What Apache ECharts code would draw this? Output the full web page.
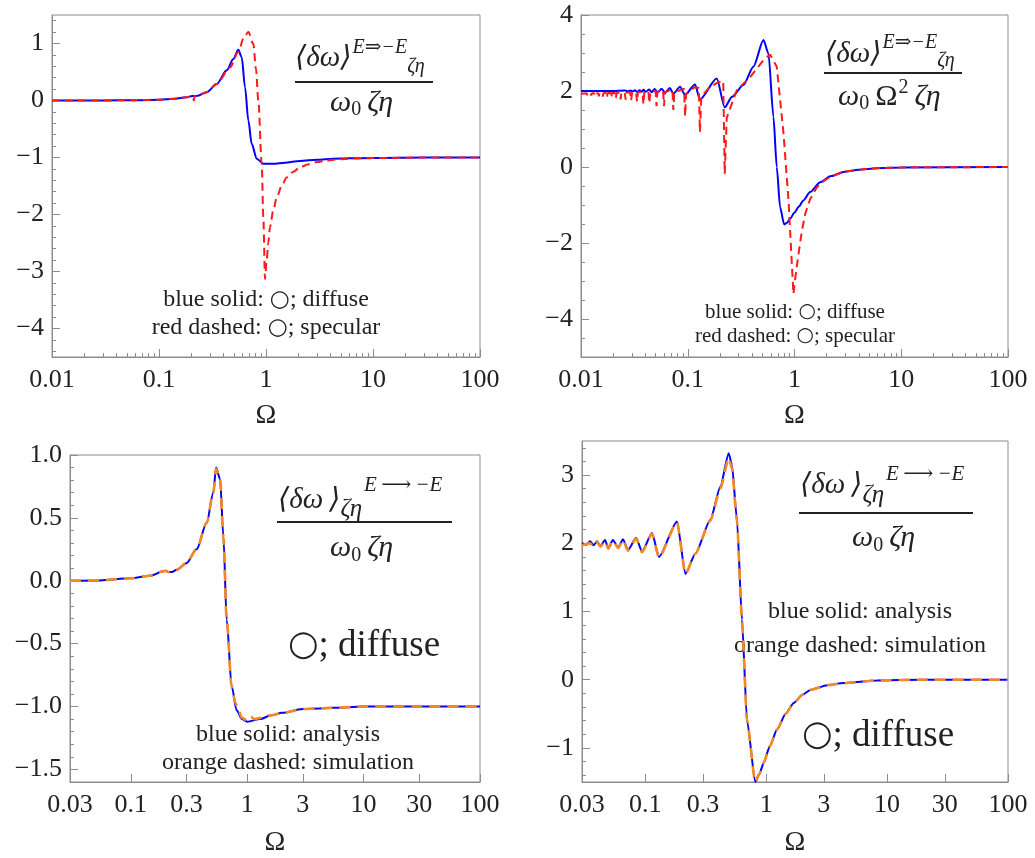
<!DOCTYPE html>
<html>
<head>
<meta charset="utf-8">
<script src="https://cdn.jsdelivr.net/npm/echarts@6/dist/echarts.min.js"></script>
<style>
html, body { margin: 0; padding: 0; background: #fff; }
#chart { width: 1035px; height: 858px; }
</style>
</head>
<body>
<div id="chart"></div>
<script>
// ---- panel 1 (top left): diffuse vs specular
var p1BlueX = [0.01, 0.03, 0.06, 0.1, 0.14, 0.18, 0.205, 0.215, 0.23, 0.279, 0.346, 0.43, 0.495, 0.551, 0.593, 0.637, 0.684, 0.735, 0.819, 0.944, 1.17, 1.5, 2.08, 3, 4.26, 6, 10, 30, 100];
var p1BlueY = [0, 0, 0.005, 0.015, 0.03, 0.055, 0.08, 0.075, 0.085, 0.146, 0.29, 0.53, 0.73, 0.89, 0.76, 0.23, -0.35, -0.76, -1.02, -1.11, -1.11, -1.09, -1.06, -1.04, -1.02, -1.015, -1.01, -1.0, -1.0];
var p1RedX = [0.01, 0.03, 0.06, 0.1, 0.14, 0.18, 0.205, 0.212, 0.215, 0.225, 0.279, 0.346, 0.461, 0.551, 0.62, 0.684, 0.762, 0.806, 0.848, 0.912, 0.944, 0.979, 1.01, 1.05, 1.09, 1.17, 1.26, 1.4, 1.56, 1.8, 2.08, 2.5, 2.98, 3.6, 4.26, 6, 10, 30, 100];
var p1RedY = [0, 0, 0.005, 0.015, 0.03, 0.055, 0.075, 0.0, 0.07, 0.085, 0.146, 0.29, 0.58, 0.85, 1.1, 1.2, 0.99, 0.55, 0, -1.11, -2.05, -3.13, -2.85, -2.5, -2.22, -1.93, -1.70, -1.5, -1.35, -1.25, -1.17, -1.12, -1.08, -1.06, -1.04, -1.02, -1.01, -1.0, -1.0];
var p1XTicks = [0.01, 0.1, 1, 10, 100];
var p1YTicks = [-4, -3, -2, -1, 0, 1];

// ---- panel 2 (top right): divided by Omega^2
var p2BlueX = [0.01, 0.02, 0.026, 0.0275, 0.029, 0.0305, 0.032, 0.0335, 0.0355, 0.037, 0.0385, 0.0405, 0.0435, 0.046, 0.049, 0.052, 0.057, 0.0613, 0.068, 0.0733, 0.0847, 0.0944, 0.117, 0.130, 0.187, 0.222, 0.26, 0.332, 0.412, 0.512, 0.57, 0.635, 0.682, 0.733, 0.80, 0.85, 0.91, 1.0, 1.1, 1.21, 1.4, 1.74, 2.2, 2.88, 4, 5.9, 10, 100];
var p2BlueY = [2.0, 2.0, 2.01, 1.99, 2.01, 1.99, 2.02, 1.98, 2.02, 1.98, 2.03, 1.98, 2.04, 1.97, 2.05, 1.96, 2.06, 1.95, 2.08, 1.93, 2.11, 1.90, 2.17, 1.78, 2.33, 1.57, 1.85, 2.16, 2.64, 3.34, 2.99, 1.32, 0, -1.06, -1.51, -1.47, -1.36, -1.2, -1.04, -0.88, -0.66, -0.40, -0.24, -0.13, -0.07, -0.03, -0.01, 0];
var p2RedX = [0.01, 0.0113, 0.0115, 0.0117, 0.0123, 0.0125, 0.0127, 0.0133, 0.0135, 0.0137, 0.0145, 0.0147, 0.0149, 0.0158, 0.016, 0.0162, 0.0172, 0.0175, 0.0178, 0.0189, 0.0192, 0.0195, 0.0208, 0.0212, 0.0216, 0.0231, 0.0235, 0.0239, 0.0257, 0.0262, 0.0267, 0.0289, 0.0295, 0.0301, 0.0328, 0.0335, 0.0342, 0.0376, 0.0384, 0.0392, 0.0428, 0.0437, 0.0446, 0.050, 0.051, 0.052, 0.0587, 0.0599, 0.0611, 0.0718, 0.0733, 0.0748, 0.0925, 0.0944, 0.0965, 0.116, 0.127, 0.130, 0.134, 0.16, 0.19, 0.215, 0.222, 0.232, 0.25, 0.288, 0.385, 0.512, 0.59, 0.682, 0.789, 0.879, 0.977, 1.03, 1.09, 1.17, 1.26, 1.4, 1.62, 1.9, 2.16, 2.88, 4, 6, 10, 100];
var p2RedY = [1.93, 1.94, 1.88, 1.94, 1.94, 1.88, 1.94, 1.94, 1.87, 1.94, 1.94, 1.86, 1.94, 1.94, 1.85, 1.94, 1.95, 1.83, 1.95, 1.95, 1.82, 1.95, 1.95, 1.80, 1.95, 1.96, 1.78, 1.96, 1.96, 1.77, 1.96, 1.96, 1.75, 1.96, 1.97, 1.72, 1.97, 1.98, 1.65, 1.98, 1.99, 1.68, 1.98, 2.0, 1.60, 1.98, 2.02, 1.60, 1.97, 2.04, 1.50, 1.96, 2.06, 1.33, 1.92, 2.1, 2.08, 0.92, 1.85, 2.1, 2.22, 2.27, -0.18, 1.3, 1.55, 2.02, 2.37, 2.81, 2.96, 2.64, 0.88, -0.88, -3.34, -2.8, -2.29, -1.7, -1.23, -0.85, -0.53, -0.36, -0.26, -0.13, -0.07, -0.03, -0.01, 0];
var p2XTicks = [0.01, 0.1, 1, 10, 100];
var p2YTicks = [-4, -2, 0, 2, 4];

// ---- panel 3 (bottom left): analysis vs simulation
var p3BlueX = [0.03, 0.054, 0.1, 0.146, 0.19, 0.2, 0.21, 0.225, 0.248, 0.3, 0.367, 0.448, 0.511, 0.54, 0.584, 0.624, 0.666, 0.735, 0.811, 0.9, 1.0, 1.29, 1.6, 2.0, 3.0, 4.2, 5.5, 10, 30, 100];
var p3BlueY = [0, 0.003, 0.02, 0.04, 0.075, 0.08, 0.07, 0.07, 0.088, 0.14, 0.25, 0.46, 0.70, 0.90, 0.81, 0.35, -0.31, -0.84, -1.03, -1.10, -1.12, -1.10, -1.07, -1.05, -1.02, -1.015, -1.01, -1.0, -1.0, -1.0];
var p3OrangeX = [0.03, 0.054, 0.1, 0.146, 0.19, 0.2, 0.21, 0.225, 0.248, 0.3, 0.367, 0.448, 0.511, 0.54, 0.584, 0.624, 0.666, 0.735, 0.79, 0.83, 0.9, 1.0, 1.07, 1.15, 1.29, 1.6, 2.0, 3.0, 4.2, 5.5, 10, 30, 100];
var p3OrangeY = [0, 0.003, 0.02, 0.04, 0.075, 0.08, 0.07, 0.07, 0.088, 0.14, 0.25, 0.46, 0.70, 0.89, 0.81, 0.35, -0.31, -0.84, -0.97, -1.01, -1.09, -1.11, -1.08, -1.1, -1.09, -1.07, -1.05, -1.02, -1.015, -1.01, -1.0, -1.0, -1.0];
var p3XTicks = [0.03, 0.1, 0.3, 1, 3, 10, 30, 100];
var p3YTicks = [-1.5, -1.0, -0.5, 0.0, 0.5, 1.0];

// ---- panel 4 (bottom right)
var p4BlueX = [0.03, 0.0325, 0.035, 0.0375, 0.04, 0.0425, 0.0465, 0.0495, 0.054, 0.0598, 0.0655, 0.072, 0.084, 0.094, 0.1138, 0.130, 0.183, 0.215, 0.26, 0.345, 0.418, 0.49, 0.521, 0.574, 0.631, 0.694, 0.812, 0.88, 0.953, 1.07, 1.23, 1.45, 1.69, 2.0, 2.32, 3.2, 4.37, 8.2, 20, 100];
var p4BlueY = [2.0, 1.98, 2.03, 1.97, 2.03, 1.96, 2.05, 1.93, 2.05, 1.94, 2.06, 1.90, 2.08, 1.88, 2.15, 1.80, 2.32, 1.55, 1.85, 2.34, 2.83, 3.32, 3.15, 2.34, 0.88, -0.59, -1.50, -1.38, -1.22, -0.98, -0.73, -0.5, -0.34, -0.22, -0.15, -0.08, -0.05, -0.01, 0, 0];
var p4OrangeX = [0.03, 0.0325, 0.035, 0.0375, 0.04, 0.0425, 0.0465, 0.0495, 0.054, 0.0598, 0.0655, 0.072, 0.084, 0.094, 0.1138, 0.130, 0.183, 0.215, 0.26, 0.345, 0.418, 0.49, 0.521, 0.574, 0.631, 0.694, 0.812, 0.88, 0.953, 1.07, 1.23, 1.45, 1.69, 2.0, 2.32, 3.2, 4.37, 8.2, 20, 100];
var p4OrangeY = [1.97, 1.99, 2.0, 1.95, 2.02, 1.95, 2.03, 1.92, 2.04, 1.93, 2.05, 1.89, 2.07, 1.87, 2.14, 1.79, 2.31, 1.55, 1.85, 2.33, 2.80, 3.25, 3.10, 2.32, 0.88, -0.59, -1.50, -1.38, -1.22, -0.98, -0.73, -0.5, -0.34, -0.22, -0.15, -0.08, -0.05, -0.01, 0, 0];
var p4XTicks = [0.03, 0.1, 0.3, 1, 3, 10, 30, 100];
var p4YTicks = [-1, 0, 1, 2, 3];

var serif = '"Liberation Serif", "DejaVu Serif", serif';
var ink = '#222';
var frame = '#8c8c8c';
var blue = '#0000ff';
var red = '#ff1a1a';
var orange = '#f5891f';

function pairs(xs, ys) {
  return xs.map(function (x, i) { return [x, ys[i]]; });
}

// minor ticks of a log axis: 2..9 in each decade
function logMinor(min, max) {
  var out = [];
  for (var d = -3; d <= 2; d++) {
    for (var k = 2; k <= 9; k++) {
      var v = k * Math.pow(10, d);
      if (v > min && v < max) out.push(v);
    }
  }
  return out;
}

function linMinor(min, max, step) {
  var out = [];
  var n = Math.round((max - min) / step);
  for (var i = 0; i <= n; i++) out.push(+(min + i * step).toFixed(4));
  return out;
}

function minusFmt(digits) {
  return function (v) {
    var s = Math.abs(v).toFixed(digits);
    return v < -1e-9 ? '\u2212' + s : s;
  };
}

function xFmt(v) {
  return String(parseFloat((+v).toPrecision(3)));
}

var panels = [
  {grid: {left: 52, top: 15, width: 428, height: 342}, xMin: 0.01, xMax: 100, xTicks: p1XTicks, xMinor: logMinor(0.01, 100),
   yMin: -4.5, yMax: 1.5, yTicks: p1YTicks, yMinor: linMinor(-4.4, 1.4, 0.2), digits: 0, nameGap: 45},
  {grid: {left: 581, top: 15, width: 427, height: 342}, xMin: 0.01, xMax: 100, xTicks: p2XTicks, xMinor: logMinor(0.01, 100),
   yMin: -5, yMax: 4, yTicks: p2YTicks, yMinor: linMinor(-5, 4, 0.5), digits: 0, nameGap: 45},
  {grid: {left: 70, top: 455, width: 410, height: 328}, xMin: 0.03, xMax: 100, xTicks: p3XTicks, xMinor: [],
   yMin: -1.6, yMax: 1.0, yTicks: p3YTicks, yMinor: linMinor(-1.6, 1.0, 0.1), digits: 1, nameGap: 47},
  {grid: {left: 582, top: 441, width: 426, height: 342}, xMin: 0.03, xMax: 100, xTicks: p4XTicks, xMinor: [],
   yMin: -1.5, yMax: 3.5, yTicks: p4YTicks, yMinor: linMinor(-1.4, 3.4, 0.2), digits: 0, nameGap: 47}
];

var grids = [], xAxes = [], yAxes = [];
panels.forEach(function (p, g) {
  grids.push({left: p.grid.left, top: p.grid.top, width: p.grid.width, height: p.grid.height,
    show: true, borderColor: frame, borderWidth: 1, backgroundColor: 'transparent'});
  xAxes.push({
    type: 'log', logBase: 10, gridIndex: g, position: 'bottom', min: p.xMin, max: p.xMax,
    axisLine: {show: true, onZero: false, lineStyle: {color: frame, width: 1}},
    axisTick: {show: true, inside: true, length: 8, customValues: p.xTicks, lineStyle: {color: frame}},
    axisLabel: {customValues: p.xTicks, formatter: xFmt, fontFamily: serif, fontSize: 26, color: ink, margin: 10},
    minorTick: {show: false}, splitLine: {show: false},
    name: '\u03a9', nameLocation: 'middle', nameGap: p.nameGap,
    nameTextStyle: {fontFamily: serif, fontSize: 28, color: ink}
  });
  xAxes.push({
    type: 'log', logBase: 10, gridIndex: g, position: 'bottom', min: p.xMin, max: p.xMax,
    axisLine: {show: false, onZero: false}, axisLabel: {show: false}, splitLine: {show: false},
    axisTick: {show: p.xMinor.length > 0, inside: true, length: 4, customValues: p.xMinor.length ? p.xMinor : p.xTicks, lineStyle: {color: frame}}
  });
  yAxes.push({
    type: 'value', gridIndex: g, position: 'left', min: p.yMin, max: p.yMax,
    axisLine: {show: true, onZero: false, lineStyle: {color: frame, width: 1}},
    axisTick: {show: true, inside: true, length: 8, customValues: p.yTicks, lineStyle: {color: frame}},
    axisLabel: {customValues: p.yTicks, formatter: minusFmt(p.digits), fontFamily: serif, fontSize: 26, color: ink, margin: 8},
    splitLine: {show: false}
  });
  yAxes.push({
    type: 'value', gridIndex: g, position: 'left', min: p.yMin, max: p.yMax,
    axisLine: {show: false, onZero: false}, axisLabel: {show: false}, splitLine: {show: false},
    axisTick: {show: true, inside: true, length: 4, customValues: p.yMinor, lineStyle: {color: frame}}
  });
});

function line(g, xs, ys, color, width, dash, smooth) {
  return {
    type: 'line', xAxisIndex: 2 * g, yAxisIndex: 2 * g, data: pairs(xs, ys),
    showSymbol: false, symbol: 'none', smooth: smooth, smoothMonotone: 'x', clip: true,
    lineStyle: {color: color, width: width, type: dash || 'solid'}
  };
}

var series = [
  line(0, p1BlueX, p1BlueY, blue, 2, null, 0.3),
  line(0, p1RedX, p1RedY, red, 2, [8, 5], 0.3),
  line(1, p2BlueX, p2BlueY, blue, 2, null, 0.25),
  line(1, p2RedX, p2RedY, red, 2, [8, 5], false),
  line(2, p3BlueX, p3BlueY, blue, 2, null, 0.3),
  line(2, p3OrangeX, p3OrangeY, orange, 2.6, [11, 7], 0.3),
  line(3, p4BlueX, p4BlueY, blue, 2, null, 0.2),
  line(3, p4OrangeX, p4OrangeY, orange, 2.6, [11, 7], 0.2)
];

// text measuring, used to chain the pieces of the fraction labels
var ctx = document.createElement('canvas').getContext('2d');
function fontOf(size, italic) {
  return (italic ? 'italic ' : '') + size + 'px ' + serif;
}
function measure(s, size, italic) {
  ctx.font = fontOf(size, italic);
  return ctx.measureText(s).width;
}

function txt(x, y, s, size, italic, align) {
  return {type: 'text', x: x, y: y, silent: true, style: {
    text: s, fontFamily: serif, fontSize: size, fontStyle: italic ? 'italic' : 'normal',
    fill: ink, align: align || 'left', verticalAlign: 'middle',
    rich: {c: {fontFamily: '"DejaVu Sans"', fontSize: Math.round(size * 0.95), fill: ink}}}};
}
function bar(x1, x2, y) {
  return {type: 'line', silent: true, shape: {x1: x1, y1: y, x2: x2, y2: y}, style: {stroke: ink, lineWidth: 2}};
}
// pieces: [text, size, italic, dy, gapAfter]
function chain(x0, y0, pieces) {
  var out = [], x = x0;
  pieces.forEach(function (p) {
    out.push(txt(x, y0 + p[3], p[0], p[1], p[2]));
    x += measure(p[0], p[1], p[2]) + (p[4] || 0);
  });
  return out;
}

var BR = '\u27e8\u03b4\u03c9\u27e9', BRS = '\u27e8\u03b4\u03c9\u2009\u27e9';
var ZE = '\u03b6\u03b7', OM = '\u03c9';
var LONG = 'E\u2009\u27f6\u2009\u2212E';

var graphics = [].concat(
  // panel 1 label
  chain(295, 58, [[BR, 29, true, 0, 1], ['E\u21d2\u2212E', 20, true, -10, 0], [ZE, 20, true, 9, 0]]),
  [bar(295, 433, 82)],
  chain(330, 103, [[OM, 30, true, 0, 0], ['0', 20, false, 7, 6], [ZE, 30, true, 0, 0]]),
  [txt(266, 300, 'blue solid: {c|\u25cb}; diffuse', 24, false, 'center'),
   txt(266, 328, 'red dashed: {c|\u25cb}; specular', 24, false, 'center')],
  // panel 2 label
  chain(825, 54, [[BR, 29, true, 0, 1], ['E\u21d2\u2212E', 20, true, -11, 0], [ZE, 20, true, 7, 0]]),
  [bar(824, 962, 73)],
  chain(838, 97, [[OM, 30, true, 0, 0], ['0', 20, false, 7, 6], ['\u03a9', 30, false, 0, 1], ['2', 20, false, -9, 6], [ZE, 30, true, 0, 0]]),
  [txt(795, 312, 'blue solid: {c|\u25cb}; diffuse', 21, false, 'center'),
   txt(795, 336, 'red dashed: {c|\u25cb}; specular', 21, false, 'center')],
  // panel 3 label
  chain(278, 500, [[BRS, 29, true, 0, 0], [ZE, 25, true, 9, 2], [LONG, 21, true, -15, 0]]),
  [bar(277, 452, 522)],
  chain(330, 548, [[OM, 30, true, 0, 0], ['0', 20, false, 8, 6], [ZE, 30, true, 0, 0]]),
  [txt(364, 646, '{c|\u25cb}; diffuse', 37, false, 'center'),
   txt(288, 735, 'blue solid: analysis', 24, false, 'center'),
   txt(288, 763, 'orange dashed: simulation', 24, false, 'center')],
  // panel 4 label
  chain(800, 485, [[BRS, 29, true, 0, 0], [ZE, 25, true, 10, 2], [LONG, 21, true, -11, 0]]),
  [bar(799, 973, 513)],
  chain(852, 538, [[OM, 30, true, 0, 0], ['0', 20, false, 8, 6], [ZE, 30, true, 0, 0]]),
  [txt(860, 612, 'blue solid: analysis', 24, false, 'center'),
   txt(860, 646, 'orange dashed: simulation', 24, false, 'center'),
   txt(878, 736, '{c|\u25cb}; diffuse', 37, false, 'center')]
);

var chart = echarts.init(document.getElementById('chart'), null, {renderer: 'canvas'});
chart.setOption({
  animation: false,
  backgroundColor: '#fff',
  grid: grids,
  xAxis: xAxes,
  yAxis: yAxes,
  series: series,
  graphic: graphics
});
</script>
</body>
</html>
